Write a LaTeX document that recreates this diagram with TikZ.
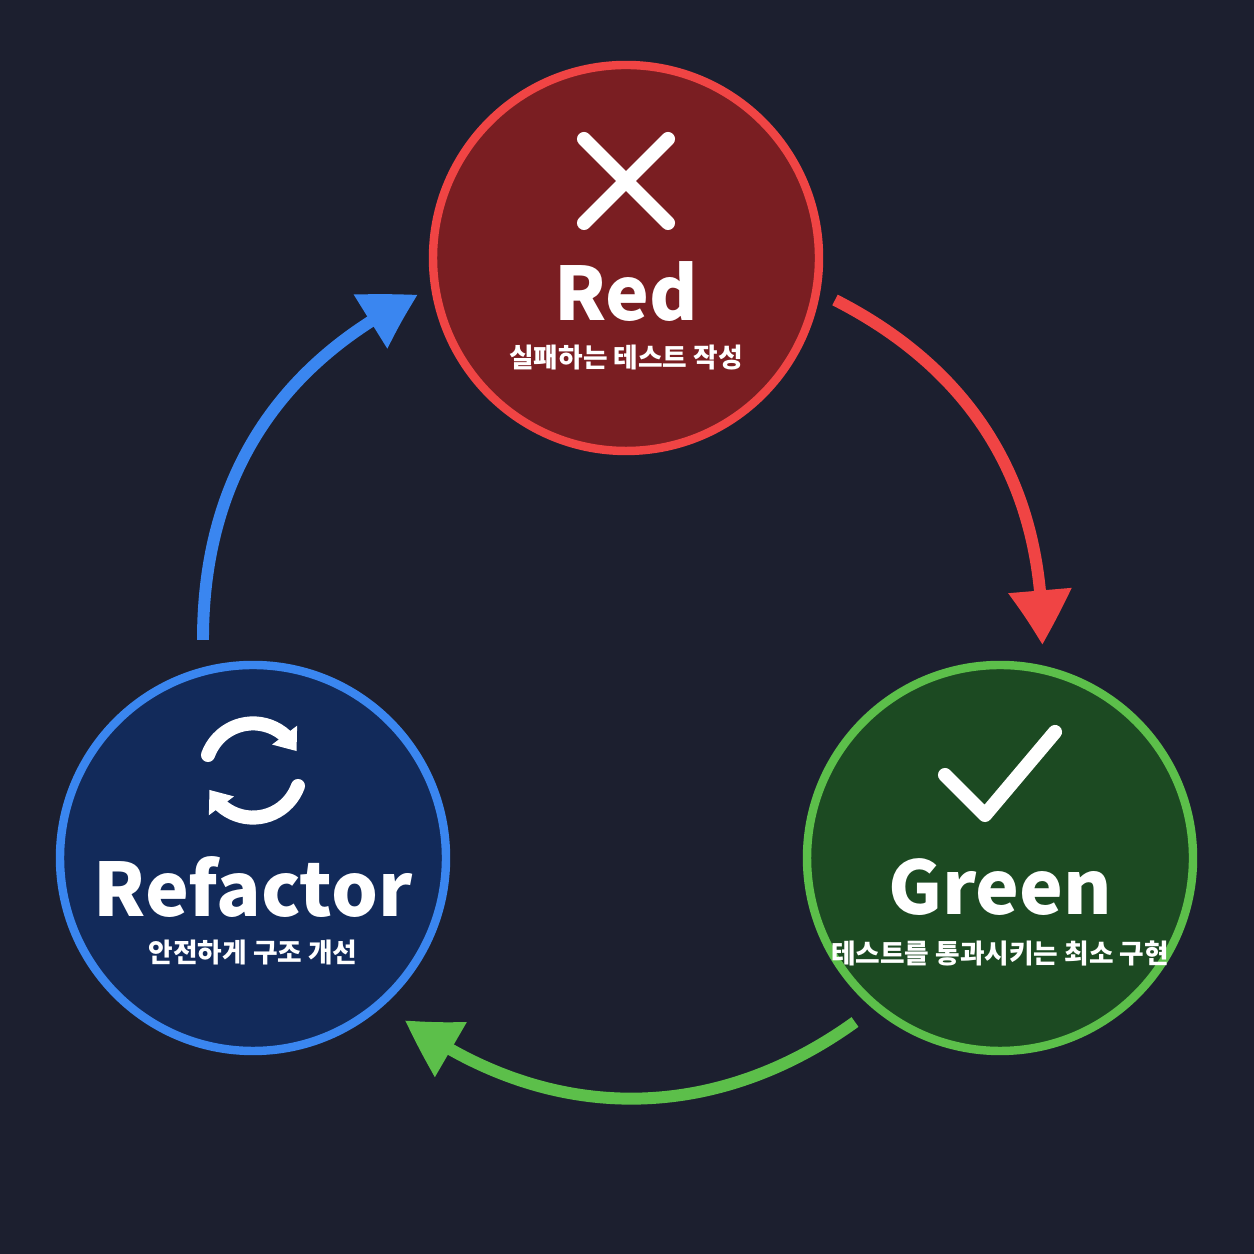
\documentclass[tikz,border=0pt]{standalone}
\usepackage{fontspec}
\setmainfont{Noto Sans CJK KR}
\usetikzlibrary{arrows.meta,bending}
\definecolor{bgc}{HTML}{1C1F2F}
\definecolor{redline}{HTML}{F04444}
\definecolor{redfill}{HTML}{7A1E22}
\definecolor{greenline}{HTML}{5CBF4A}
\definecolor{greenfill}{HTML}{1C4A22}
\definecolor{blueline}{HTML}{3A86F0}
\definecolor{bluefill}{HTML}{122A5A}
\begin{document}
\begin{tikzpicture}
\tikzset{ >={Triangle[length=0.55cm,width=0.6cm,bend]},
  phase/.style={circle, minimum size=3.86cm, line width=2.4pt},
  title/.style={text=white, font=\bfseries\fontsize{21}{24}\selectfont},
  sub/.style={text=white, font=\bfseries\fontsize{7.6}{9}\selectfont},
  cycle/.style={line width=3.4pt, ->},
  icon/.style={white, line width=4pt, line cap=round, line join=round},
}
\fill [bgc] (0,0) rectangle (12.54,12.54);
\useasboundingbox (0,0) rectangle (12.54,12.54);

% the three phases
\node [phase, draw=redline,   fill=redfill]   (R) at (6.26,9.96) {};
\node [phase, draw=greenline, fill=greenfill] (G) at (10.0,3.96) {};
\node [phase, draw=blueline,  fill=bluefill]  (B) at (2.53,3.96) {};

\node [title] (Rt) at (6.26,9.62) {Red};
\node [sub]   (Rs) at (6.26,8.96) {실패하는 테스트 작성};
\node [title] (Gt) at (10.0,3.67) {Green};
\node [sub]   (Gs) at (10.0,3.01) {테스트를 통과시키는 최소 구현};
\node [title] (Bt) at (2.53,3.67) {Refactor};
\node [sub]   (Bs) at (2.53,3.01) {안전하게 구조 개선};

% icons
\draw [icon] (5.84,11.15) -- (6.68,10.31);
\draw [icon] (5.84,10.31) -- (6.68,11.15);
\draw [icon] (9.45,4.79) -- (9.85,4.39) -- (10.55,5.22);
\draw [icon, -{Triangle[length=0.2cm,width=0.3cm]}] (2.08,4.99) arc (160:25:0.48);
\draw [icon, -{Triangle[length=0.2cm,width=0.3cm]}] (2.98,4.68) arc (340:205:0.48);

% cycle arrows
\coordinate (r1) at (8.35,9.54);  \coordinate (r2) at (10.42,6.09);
\coordinate (g1) at (8.55,2.32);  \coordinate (g2) at (4.05,2.34);
\coordinate (b1) at (2.03,6.14);  \coordinate (b2) at (4.18,9.59);
\draw [cycle, redline]   (r1) to [bend left=32] (r2);
\draw [cycle, greenline] (g1) to [bend left=36] (g2);
\draw [cycle, blueline]  (b1) to [bend left=32] (b2);
\end{tikzpicture}
\end{document}
